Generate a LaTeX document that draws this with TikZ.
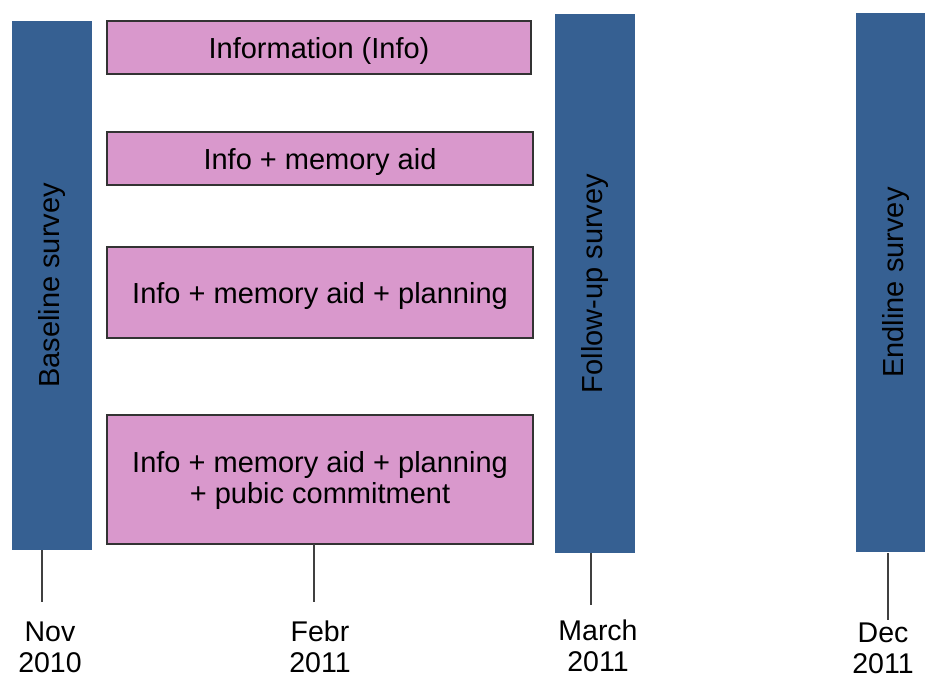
\documentclass[tikz,border=0pt]{standalone}
\usepackage{fontspec}
\setmainfont{Liberation Sans}
\definecolor{barblue}{RGB}{54,96,146}
\definecolor{boxpink}{RGB}{217,152,204}
\definecolor{tickgray}{RGB}{64,64,64}
\begin{document}
\begin{tikzpicture}[x=1pt,y=-1pt,
  survey/.style={draw=none,fill=barblue,rotate=90,minimum height=80pt,inner sep=0pt,
    font=\fontsize{29}{31}\selectfont},
  arm/.style={draw=black!80,line width=1.2pt,fill=boxpink,inner sep=0pt,
    minimum width=426pt,align=center,font=\fontsize{29}{31}\selectfont},
  armtext/.style={align=center,inner sep=0pt,font=\fontsize{29}{31}\selectfont},
  datelbl/.style={align=center,inner sep=0pt,font=\fontsize{28.5}{31}\selectfont},
  tick/.style={draw=tickgray,line width=1.3pt}]
\useasboundingbox (0,0) rectangle (925,677);
\fill[white] (0,0) rectangle (925,677);
% survey bars
\node[survey,minimum width=529pt] (base) at (52,285.5) {Baseline survey};
\node[survey,minimum width=539pt] (follow) at (595,283.5) {Follow-up survey};
\node[survey,minimum width=539pt] (end) at (896,282.5) {Endline survey};
% treatment arms
\node[arm,minimum width=424pt,minimum height=53pt] (a1) at (319,47.5) {};
\node[arm,minimum height=53pt] (a2) at (320,158.5) {};
\node[arm,minimum height=91pt] (a3) at (320,292.5) {};
\node[arm,minimum height=129pt] (a4) at (320,479.5) {};
\node[armtext] (t1) at ([yshift=-3pt]a1.center) {Information (Info)};
\node[armtext] (t2) at ([yshift=-3pt]a2.center) {Info + memory aid};
\node[armtext] (t3) at ([yshift=-3pt]a3.center) {Info + memory aid + planning};
\node[armtext] (t4) at ([yshift=-1pt]a4.center) {Info + memory aid + planning\\+ pubic commitment};
% date labels
\node[datelbl] (nov) at (50,647) {Nov\\2010};
\node[datelbl] (feb) at (320,647) {Febr\\2011};
\node[datelbl] (mar) at (598,646) {March\\2011};
\node[datelbl] (dec) at (883,648) {Dec\\2011};
% tick lines
\coordinate (nov top) at (42,550);
\coordinate (nov bot) at (42,602);
\coordinate (feb top) at (314,544);
\coordinate (feb bot) at (314,602);
\coordinate (mar top) at (591,553);
\coordinate (mar bot) at (591,605);
\coordinate (dec top) at (888,553);
\coordinate (dec bot) at (888,620);
\draw[tick] (nov top) -- (nov bot);
\draw[tick] (feb top) -- (feb bot);
\draw[tick] (mar top) -- (mar bot);
\draw[tick] (dec top) -- (dec bot);
\end{tikzpicture}
\end{document}
